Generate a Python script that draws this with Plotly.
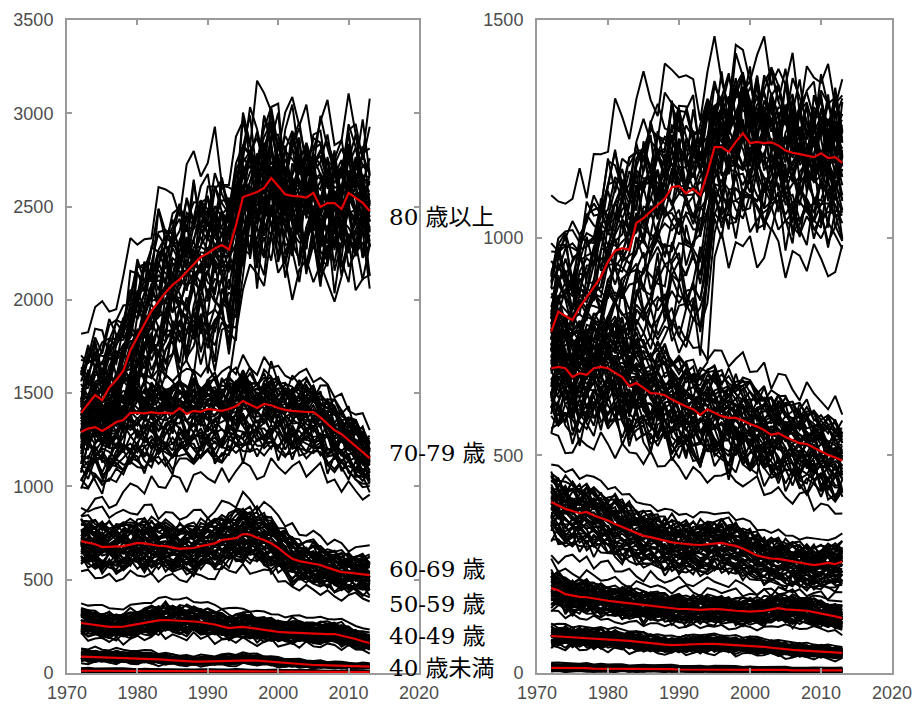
import numpy as np
import plotly.graph_objects as go

# ---- years ----
years = list(range(1972, 2014))

# ---- national rates, left panel (red lines) ----
m80 = [1394, 1440, 1490, 1463, 1530, 1570, 1620, 1730, 1800, 1876, 1940, 1990, 2040, 2080,
       2110, 2150, 2190, 2230, 2250, 2275, 2294, 2270, 2400, 2551, 2565, 2578, 2600, 2653,
       2610, 2565, 2557, 2555, 2548, 2573, 2498, 2519, 2519, 2487, 2573, 2545, 2520, 2476]
m70 = [1292, 1310, 1318, 1297, 1320, 1345, 1356, 1394, 1394, 1392, 1398, 1392, 1396, 1390,
       1420, 1388, 1405, 1400, 1415, 1410, 1405, 1415, 1430, 1458, 1440, 1420, 1442, 1435,
       1420, 1410, 1405, 1400, 1399, 1398, 1370, 1335, 1302, 1280, 1249, 1215, 1185, 1152]
m60 = [707, 700, 690, 675, 678, 680, 680, 688, 697, 695, 688, 682, 680, 672,
       665, 668, 670, 680, 686, 695, 713, 718, 723, 745, 742, 725, 713, 695,
       670, 640, 612, 600, 592, 585, 579, 565, 552, 541, 538, 535, 532, 525]
m50 = [268, 262, 257, 252, 247, 247, 248, 255, 262, 268, 275, 282, 284, 283,
       280, 278, 276, 272, 268, 260, 250, 241, 245, 247, 242, 236, 230, 225,
       220, 218, 216, 215, 214, 212, 210, 208, 209, 200, 193, 182, 170, 161]
m40 = [88, 87, 86, 85, 84, 83, 82, 81, 80, 78, 76, 73, 70, 67,
       64, 62, 61, 61, 62, 63, 65, 67, 69, 70, 68, 66, 63, 59,
       55, 52, 50, 48, 46, 43, 42, 41, 40, 38, 37, 36, 35, 34]
m00 = [12, 12, 12, 11, 11, 11, 11, 10, 10, 10, 10, 10, 9, 9,
       9, 9, 9, 9, 9, 9, 9, 9, 9, 9, 8, 8, 8, 8,
       8, 7, 7, 7, 7, 7, 6, 6, 6, 6, 6, 6, 5, 5]

# ---- national rates, right panel (red lines) ----
f80 = [784, 830, 820, 811, 840, 864, 885, 910, 945, 970, 976, 972, 1034, 1045,
       1060, 1075, 1090, 1116, 1119, 1102, 1112, 1098, 1148, 1208, 1208, 1197, 1220, 1240,
       1217, 1220, 1217, 1219, 1212, 1200, 1195, 1192, 1188, 1185, 1194, 1183, 1185, 1172]
f70 = [700, 703, 700, 680, 689, 685, 700, 703, 700, 690, 680, 659, 666, 655,
       643, 642, 638, 628, 620, 612, 606, 593, 606, 598, 590, 586, 586, 580,
       572, 566, 558, 547, 551, 542, 535, 528, 526, 518, 510, 501, 495, 488]
f60 = [393, 385, 377, 372, 367, 370, 362, 356, 350, 342, 335, 328, 322, 315,
       312, 308, 304, 300, 298, 296, 295, 294, 296, 298, 299, 295, 292, 286,
       278, 270, 266, 263, 262, 259, 256, 253, 250, 248, 250, 253, 250, 256]
f50 = [195, 190, 181, 178, 175, 174, 171, 169, 166, 164, 162, 160, 158, 156,
       154, 152, 150, 148, 147, 147, 146, 145, 146, 147, 146, 144, 143, 142,
       141, 142, 143, 146, 149, 146, 145, 144, 143, 140, 137, 133, 130, 126]
f40 = [85, 84, 83, 82, 81, 80, 79, 79, 78, 77, 76, 74, 72, 70,
       68, 66, 65, 64, 64, 65, 66, 67, 67, 67, 66, 65, 64, 63,
       63, 62, 60, 58, 56, 55, 53, 52, 51, 50, 49, 48, 47, 46]
f00 = [12, 12, 11, 11, 11, 11, 10, 10, 10, 10, 10, 9, 9, 9,
       9, 9, 9, 9, 8, 8, 8, 8, 8, 8, 8, 8, 8, 7,
       7, 7, 7, 7, 7, 7, 6, 6, 6, 6, 6, 6, 6, 6]

# ---- prefecture spread around the national rate (percent below / above) ----
m80_lo = [14, 14, 14, 14, 15, 15, 15, 16, 16, 17, 17, 18, 19, 20,
          21, 22, 22, 23, 23, 24, 24, 23, 22, 12, 12, 12, 12, 12,
          12, 12, 12, 12, 12, 12, 12, 12, 12, 12, 12, 12, 12, 12]
m80_hi = [21, 21, 21, 20, 20, 20, 20, 19, 19, 19, 18, 18, 17, 17,
          16, 16, 15, 15, 14, 14, 13, 13, 12, 11, 11, 11, 11, 11,
          11, 11, 11, 11, 11, 11, 11, 11, 11, 11, 11, 11, 11, 11]
m70_lo = [24, 24, 23, 23, 23, 22, 22, 22, 21, 21, 21, 20, 20, 20,
          20, 19, 19, 19, 19, 19, 19, 18, 18, 18, 18, 18, 17, 17,
          17, 17, 17, 16, 16, 16, 16, 16, 16, 15, 15, 15, 15, 15]
f80_lo = [22, 22, 22, 23, 23, 24, 24, 25, 25, 26, 26, 27, 28, 29,
          30, 30, 31, 31, 32, 32, 31, 30, 26, 15, 15, 15, 15, 15,
          15, 15, 15, 15, 15, 15, 15, 15, 15, 15, 15, 15, 15, 15]
f80_hi = [23, 23, 23, 23, 23, 22, 22, 22, 21, 21, 20, 20, 19, 19,
          18, 17, 17, 16, 16, 15, 15, 14, 12, 10, 10, 10, 10, 10,
          10, 10, 10, 10, 10, 10, 10, 10, 10, 10, 10, 10, 10, 10]

# relative position of each prefecture inside its band (-1 lowest .. +1 highest)
pref_pos = [0.35, -0.62, 0.10, -0.20, 0.85, -0.95, 0.48, -0.05, 0.22, -0.40,
            0.70, -0.75, 0.02, 0.55, -0.30, 1.45, -0.55, 0.15, -0.85, 0.40,
            -0.12, 0.62, -0.68, 0.28, -1.35, 0.78, -0.25, 0.05, -0.45, 0.92,
            -0.80, 0.18, -0.35, 0.66, -0.58, 0.30, -0.15, 0.50, -0.90, 0.12,
            -0.50, 0.82, -0.70, 0.42, -0.08, 0.95, -0.22]
# year-to-year variability of each prefecture (smaller populations vary more)
pref_noise = [0.6, 1.2, 0.9, 0.7, 1.4, 1.0, 0.8, 0.5, 1.1, 1.3,
              0.7, 0.9, 0.4, 1.5, 0.8, 1.2, 0.6, 1.0, 1.3, 0.9,
              0.7, 1.1, 0.5, 1.4, 0.8, 1.0, 0.6, 0.9, 1.2, 0.7,
              1.5, 0.8, 1.1, 0.6, 1.3, 0.9, 0.7, 1.0, 1.2, 0.5,
              1.4, 0.8, 1.1, 0.9, 0.6, 1.3, 1.0]
# annual fluctuation patterns
wiggle = [
    [3, -2, 5, -6, 1, 4, -3, 0, 7, -4, 2, -1, -5, 6, -2, 3, -7, 1, 4, -3, 5, -1, -6, 2, 8, -4, 0, 3, -5, 6, -2, -3, 4, 1, -6, 5, -1, 2, -4, 7, -3, 1],
    [-4, 6, -1, 2, -7, 3, 5, -2, -3, 8, -1, 4, -6, 0, 2, -5, 3, 7, -2, -4, 1, 6, -3, -1, 4, -7, 2, 5, -2, 0, 3, -6, 1, 4, -3, -5, 6, 2, -1, -4, 3, 0],
    [1, -5, 3, 7, -2, -6, 4, 1, -3, 2, 6, -4, 0, -2, 5, -7, 3, 1, -1, 4, -5, 2, 7, -3, -2, 1, 5, -6, 3, -1, -4, 6, 2, -3, 0, 5, -2, -6, 4, 1, -1, 3],
    [6, 0, -3, -5, 4, 2, -1, -6, 3, 5, -2, 1, 7, -4, -3, 2, 0, -5, 6, 3, -2, -7, 1, 4, -1, 3, -6, 2, 5, -3, -1, 4, -2, -5, 7, 0, -3, 1, 6, -2, -4, 2],
    [-2, 3, -6, 1, 5, -1, -4, 6, 2, -3, -5, 7, 1, -2, 4, -6, -1, 3, 5, -4, 2, 0, -3, 6, 1, -5, 4, -2, -6, 3, 7, -1, -4, 2, 5, -3, 0, 4, -5, -2, 6, -1],
    [5, -3, 2, -1, -6, 7, 0, -4, 4, 1, -2, -5, 3, 6, -3, -1, 5, -4, 2, -6, 3, 4, -2, -5, 6, 1, -3, 0, 4, -6, 2, -2, 5, 3, -4, -1, 6, -3, 1, 2, -5, 4],
    [-6, 2, 4, -3, 1, -5, 6, 3, -2, -1, 4, -7, 2, 5, -4, 1, -2, 6, -3, 0, -5, 3, 4, -1, -6, 2, 5, -3, 1, -2, 6, -4, -1, 3, 2, -6, 4, -2, 5, -3, 0, 1],
    [2, 7, -4, 0, 3, -2, -5, 4, 6, -6, 1, 2, -3, -1, 5, 3, -6, -2, 4, 1, -4, 5, -1, -7, 3, 2, 0, -4, 6, -3, -2, 5, 1, -5, 4, 3, -6, 0, 2, 5, -1, -3],
    [0, -4, 6, -2, -3, 5, 1, -7, 2, 4, -1, -3, 6, -5, 0, 3, 2, -4, -6, 5, 1, -2, 3, 4, -5, -1, 6, -3, 2, -6, 4, 1, -2, 5, -4, -1, 3, 6, -3, -5, 2, 4],
    [-3, 1, -2, 6, 2, -4, 3, 5, -6, 0, 3, -2, -4, 7, 1, -3, -5, 2, 4, -1, 6, -4, -2, 3, 5, -6, 1, 2, -3, 4, -5, 0, 6, -2, -1, 3, -4, 5, -6, 2, 1, -2],
    [4, -6, 1, 3, -4, 0, 5, -3, -1, 6, -5, 2, 4, -2, -6, 5, 1, -1, -3, 7, -2, -4, 6, 1, -3, -2, 4, 5, -6, 2, 0, -3, 3, -4, 6, 1, -5, 2, 3, -6, 4, 0],
    [-1, 4, -5, -2, 6, 3, -6, 2, 1, -3, 5, 0, -4, -3, 6, 2, -2, 4, -6, 1, 3, -5, 5, -2, -4, 6, -1, 3, -3, -5, 1, 4, -6, 2, 3, -2, 5, -4, -1, 6, -3, 2],
]

# age-group labels
age_labels = ["80 歳以上", "70-79 歳", "60-69 歳", "50-59 歳", "40-49 歳", "40 歳未満"]
label_y_px = [217, 453, 569, 604, 636, 668]

x_ticks = [1970, 1980, 1990, 2000, 2010, 2020]

# ---- figure geometry (pixels) ----
W, H = 918, 707
ML, MR, MT, MB = 67, 26, 20, 34
PW, PH = W - ML - MR, H - MT - MB

yr = np.array(years, dtype=float)
n = len(years)


def as_series(v):
    return np.array(v, dtype=float) if isinstance(v, list) else np.full(n, float(v))


def band_lines(red, lo, hi, amp, g):
    red = np.array(red, dtype=float)
    lo, hi = as_series(lo), as_series(hi)
    xs, ys = [], []
    for p in range(len(pref_pos)):
        pos = pref_pos[(p + 5 * g) % len(pref_pos)]
        spread = (hi if pos >= 0 else lo) * pos / 100.0
        w = np.roll(np.array(wiggle[(p + g) % len(wiggle)], dtype=float), 7 * (p // 12) + g)
        jitter = amp / 100.0 * pref_noise[p] * w / 7.0
        vals = red * (1.0 + spread + jitter)
        xs += list(yr) + [None]
        ys += list(vals) + [None]
    return xs, ys


groups_left = [
    (m80, m80_lo, m80_hi, 7),
    (m70, m70_lo, 10, 5),
    (m60, 18, 18, 6),
    (m50, 22, 28, 8),
    (m40, 25, 35, 12),
    (m00, 50, 80, 25),
]
groups_right = [
    (f80, f80_lo, f80_hi, 6),
    (f70, 18, 16, 6),
    (f60, 22, 16, 6),
    (f50, 20, 20, 8),
    (f40, 22, 22, 12),
    (f00, 50, 70, 25),
]

fig = go.Figure()
red_color = "#e60000"

for panel, groups in enumerate([groups_left, groups_right]):
    xa, ya = ("x", "y") if panel == 0 else ("x2", "y2")
    for k, (red, lo, hi, amp) in enumerate(groups):
        gx, gy = band_lines(red, lo, hi, amp, k + 6 * panel)
        fig.add_trace(go.Scatter(x=gx, y=gy, mode="lines", xaxis=xa, yaxis=ya,
                                 line=dict(color="black", width=2.0),
                                 connectgaps=False, hoverinfo="skip", showlegend=False))
    for red, lo, hi, amp in groups:
        fig.add_trace(go.Scatter(x=years, y=red, mode="lines", xaxis=xa, yaxis=ya,
                                 line=dict(color=red_color, width=2.2),
                                 hoverinfo="skip", showlegend=False))

frame = "#9a9a9a"
tick_font = dict(family="Liberation Sans, Arial, sans-serif", size=18, color="#4d4d4d")
common = dict(showline=True, linecolor=frame, linewidth=2, mirror="ticks",
              ticks="inside", ticklen=5, tickwidth=1.5, tickcolor=frame,
              showgrid=False, zeroline=False, tickfont=tick_font, automargin=False)

left_end = (419 - ML) / PW
right_start = (537 - ML) / PW

fig.update_layout(
    width=W, height=H,
    margin=dict(l=ML, r=MR, t=MT, b=MB, autoexpand=False),
    paper_bgcolor="white", plot_bgcolor="white",
    xaxis=dict(domain=[0, left_end], range=[1970, 2020], tickvals=x_ticks,
               anchor="y", ticklabelstandoff=2, **common),
    yaxis=dict(domain=[0, 1], range=[0, 3500], tickvals=list(range(0, 3501, 500)),
               anchor="x", ticklabelstandoff=8, **common),
    xaxis2=dict(domain=[right_start, 1], range=[1970, 2020], tickvals=x_ticks,
                anchor="y2", ticklabelstandoff=2, **common),
    yaxis2=dict(domain=[0, 1], range=[0, 1500], tickvals=list(range(0, 1501, 500)),
                anchor="x2", ticklabelstandoff=8, **common),
)

label_font = dict(family="DejaVu Serif, Liberation Serif, Noto Sans CJK JP", size=23, color="black")
for text, ypx in zip(age_labels, label_y_px):
    fig.add_annotation(text=text, xref="paper", yref="paper",
                       x=(387 - ML) / PW, y=(H - MB - ypx) / PH,
                       xanchor="left", yanchor="middle", showarrow=False, font=label_font)

fig.write_html("out.html")
